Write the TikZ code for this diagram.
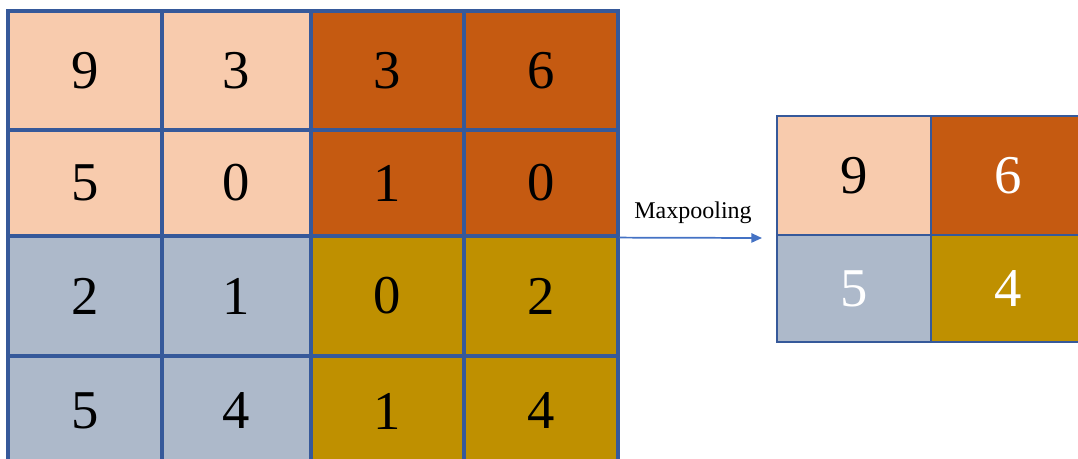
\documentclass[tikz,border=0pt]{standalone}
\usepackage{fontspec}
\setmainfont{Liberation Serif}
\usetikzlibrary{arrows.meta}
\definecolor{peach}{HTML}{F8CBAD}
\definecolor{rust}{HTML}{C55A11}
\definecolor{slate}{HTML}{ADB9CA}
\definecolor{gold}{HTML}{BF9000}
\definecolor{edge}{HTML}{36599A}
\definecolor{arrowblue}{HTML}{4472C4}
\tikzset{
  cell/.style = {draw = edge, line width = 2.4pt, inner sep = 0pt, font = \fontsize{41}{48}\selectfont},
  small/.style = {cell, line width = 1.6pt}
}
\begin{document}
\begin{tikzpicture}[x = 0.75pt, y = -0.75pt]
        \useasboundingbox (0,0) rectangle (1078,459);
        % input grid
        \node[cell, fill = peach, minimum width = 115.5pt, minimum height = 89.25pt](a11)at(85,70.5){9};
        \node[cell, fill = peach, minimum width = 111.75pt, minimum height = 89.25pt](a12)at(236.5,70.5){3};
        \node[cell, fill = rust, minimum width = 114.75pt, minimum height = 89.25pt](a13)at(387.5,70.5){3};
        \node[cell, fill = rust, minimum width = 115.5pt, minimum height = 89.25pt](a14)at(541,70.5){6};
        \node[cell, fill = peach, minimum width = 115.5pt, minimum height = 79.5pt](a21)at(85,183){5};
        \node[cell, fill = peach, minimum width = 111.75pt, minimum height = 79.5pt](a22)at(236.5,183){0};
        \node[cell, fill = rust, minimum width = 114.75pt, minimum height = 79.5pt](a23)at(387.5,183){1};
        \node[cell, fill = rust, minimum width = 115.5pt, minimum height = 79.5pt](a24)at(541,183){0};
        \node[cell, fill = slate, minimum width = 115.5pt, minimum height = 90pt](a31)at(85,296){2};
        \node[cell, fill = slate, minimum width = 111.75pt, minimum height = 90pt](a32)at(236.5,296){1};
        \node[cell, fill = gold, minimum width = 114.75pt, minimum height = 90pt](a33)at(387.5,296){0};
        \node[cell, fill = gold, minimum width = 115.5pt, minimum height = 90pt](a34)at(541,296){2};
        \node[cell, fill = slate, minimum width = 115.5pt, minimum height = 82.5pt](a41)at(85,411){5};
        \node[cell, fill = slate, minimum width = 111.75pt, minimum height = 82.5pt](a42)at(236.5,411){4};
        \node[cell, fill = gold, minimum width = 114.75pt, minimum height = 82.5pt](a43)at(387.5,411){1};
        \node[cell, fill = gold, minimum width = 115.5pt, minimum height = 82.5pt](a44)at(541,411){4};
        % pooled grid
        \node[small, fill = peach, minimum width = 115.5pt, minimum height = 89.25pt](b11)at(854,175.5){9};
        \node[small, fill = rust, text = white, minimum width = 115.5pt, minimum height = 89.25pt](b12)at(1008,175.5){6};
        \node[small, fill = slate, text = white, minimum width = 115.5pt, minimum height = 80.25pt](b21)at(854,288.5){5};
        \node[small, fill = gold, text = white, minimum width = 115.5pt, minimum height = 80.25pt](b22)at(1008,288.5){4};
        % arrow
        \coordinate(tip)at(762,238);
        \path[draw = arrowblue, line width = 1.3pt, -{Triangle[length = 8pt, width = 7pt]}](a24.south east)to(tip);
        \node[font = \fontsize{18}{21}\selectfont](lbl)at(693,213){Maxpooling};
    \end{tikzpicture}
\end{document}
